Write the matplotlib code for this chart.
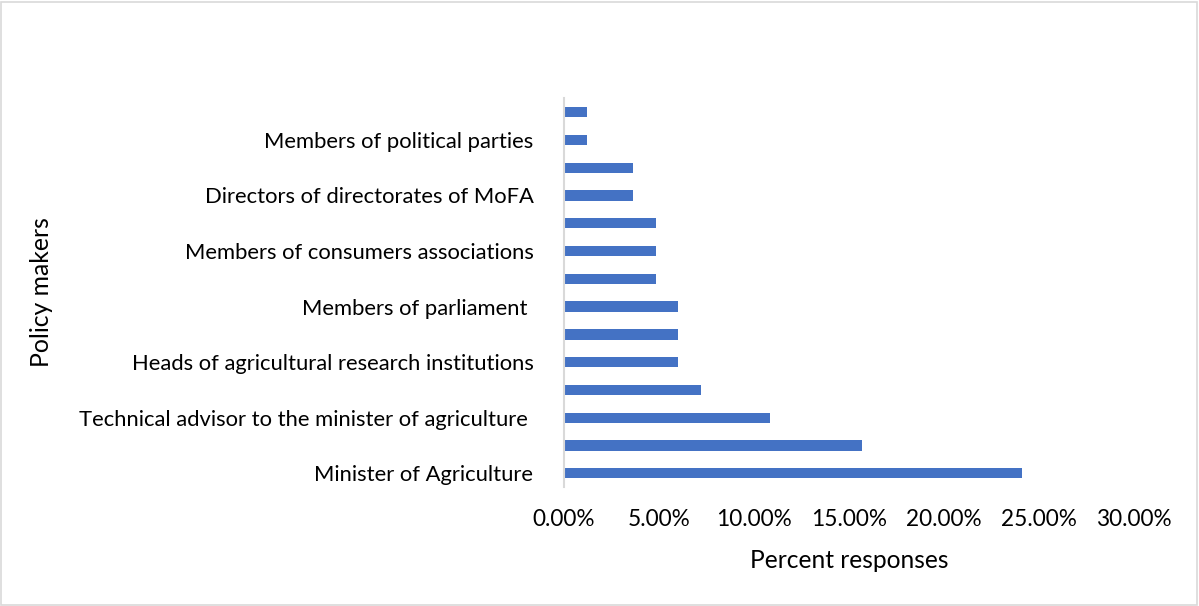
import matplotlib
matplotlib.use('Agg')
import matplotlib.pyplot as plt
from matplotlib.patches import Rectangle
from matplotlib.ticker import FuncFormatter

# Policy makers, bottom to top (labels Excel skipped are left blank)
categories = [
    'Minister of Agriculture',
    '',
    'Technical advisor to the minister of agriculture ',
    '',
    'Heads of agricultural research institutions',
    '',
    'Members of parliament ',
    '',
    'Members of consumers associations',
    '',
    'Directors of directorates of MoFA',
    '',
    'Members of political parties',
    '',
]
percent = [24.10, 15.66, 10.84, 7.23, 6.02, 6.02, 6.02,
           4.82, 4.82, 4.82, 3.61, 3.61, 1.20, 1.20]
xticks = [0, 5, 10, 15, 20, 25, 30]

plt.rcParams['font.family'] = ['Lato', 'DejaVu Sans']

fig = plt.figure(figsize=(11.99, 6.06), dpi=100)
ax = fig.add_axes([0.4704, 0.196, 0.4754, 0.642])

ypos = list(range(len(categories)))
ax.barh(ypos, percent, height=0.37, color='#4472C4')

ax.set_xlim(0, 30)
ax.set_ylim(-0.5, len(categories) - 0.5)
ax.set_xticks(xticks)
ax.xaxis.set_major_formatter(FuncFormatter(lambda v, p: f'{v:.2f}%'))
ax.set_yticks(ypos)
ax.set_yticklabels(categories)

ax.tick_params(axis='both', length=0, colors='#000000')
ax.tick_params(axis='y', pad=22, labelsize=15.8)
ax.tick_params(axis='x', pad=16, labelsize=16.3)

for s in ['top', 'right', 'bottom']:
    ax.spines[s].set_visible(False)
ax.spines['left'].set_color('#D9D9D9')
ax.spines['left'].set_linewidth(1.5)

ax.set_xlabel('Percent responses', fontsize=17.7, labelpad=13)
fig.text(0.035, 0.518, 'Policy makers', rotation=90, fontsize=17.8,
         ha='center', va='center')

# light frame round the chart area
fig.patches.append(Rectangle((0.001, 0.002), 0.997, 0.995, transform=fig.transFigure,
                             fill=False, edgecolor='#D9D9D9', linewidth=1.2))

fig.savefig('out.png', dpi=100)
